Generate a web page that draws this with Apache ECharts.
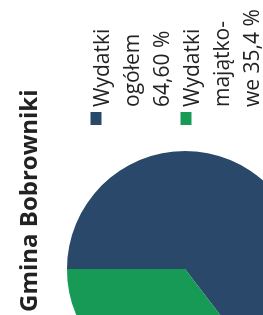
<!DOCTYPE html>
<html>
<head>
<meta charset="utf-8">
<script src="https://cdn.jsdelivr.net/npm/echarts@6/dist/echarts.min.js"></script>
<style>
  html, body { margin: 0; padding: 0; background: #fff; overflow: hidden; }
  body { width: 263px; height: 315px; position: relative; }
  /* wykres jest obrócony o 90 stopni w lewo, tak jak na skanie */
  #chart {
    position: absolute; left: 0; top: 0;
    width: 315px; height: 263px;
    transform-origin: 0 0;
    transform: translateY(315px) rotate(-90deg);
  }
</style>
</head>
<body>
<div id="chart"></div>
<script>
const title = 'Gmina Bobrowniki'
const categories = ['Wydatki ogółem', 'Wydatki majątkowe']
const values = [64.6, 35.4]
const legendLabels = [['Wydatki', 'ogółem', '64,60 %'], ['Wydatki', 'majątko-', 'we 35,4 %']]
const colors = ['#2a4869', '#169a55']

const chart = echarts.init(document.getElementById('chart'), null, { renderer: 'canvas' })

// osobna legenda dla kazdej pozycji; pusta linia z przodu (gap),
// zeby kwadrat wypadl przy pierwszej linii tekstu
const legendTops = [46, 136]
const legends = categories.map((name, i) => ({
  data: [name],
  left: 190,
  top: legendTops[i],
  padding: 0,
  itemWidth: 13,
  itemHeight: 11,
  icon: 'rect',
  selectedMode: false,
  formatter: () => '{gap| }\n' + legendLabels[i].map(s => '{t|' + s + '}').join('\n'),
  textStyle: {
    fontFamily: 'Open Sans',
    fontSize: 21,
    color: '#222',
    rich: {
      gap: { lineHeight: 74, fontSize: 10 },
      t: { fontFamily: 'Open Sans', fontSize: 21, lineHeight: 30, color: '#222' }
    }
  }
}))

const option = {
  backgroundColor: '#fff',
  animation: false,
  color: colors,
  title: {
    text: title,
    left: 3,
    top: 18,
    padding: 0,
    textStyle: {
      fontFamily: 'Open Sans',
      fontWeight: 'bold',
      fontSize: 24,
      color: '#222'
    }
  },
  legend: legends,
  series: [
    {
      type: 'pie',
      center: [46, 185],
      radius: 118,
      startAngle: 90,
      clockwise: true,
      label: { show: false },
      labelLine: { show: false },
      itemStyle: { borderWidth: 0 },
      emphasis: { disabled: true },
      data: categories.map((name, i) => ({ name: name, value: values[i] }))
    }
  ]
}

chart.setOption(option)
</script>
</body>
</html>
